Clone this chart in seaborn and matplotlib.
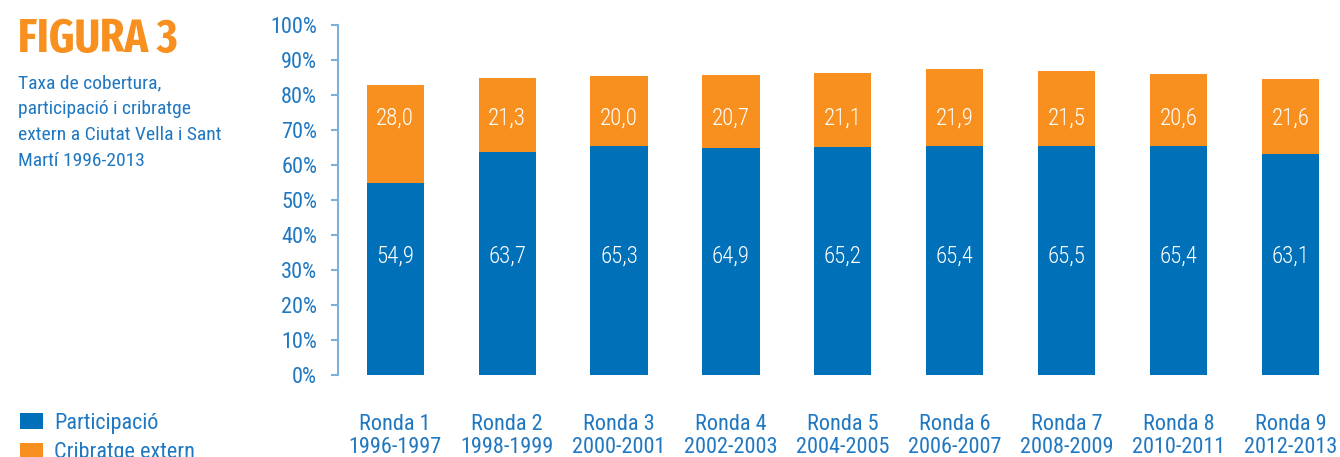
import matplotlib
matplotlib.use("Agg")
import matplotlib.pyplot as plt
import seaborn as sns
import pandas as pd

categories = ["Ronda 1\n1996-1997", "Ronda 2\n1998-1999", "Ronda 3\n2000-2001",
              "Ronda 4\n2002-2003", "Ronda 5\n2004-2005", "Ronda 6\n2006-2007",
              "Ronda 7\n2008-2009", "Ronda 8\n2010-2011", "Ronda 9\n2012-2013"]
participacio = [54.9, 63.7, 65.3, 64.9, 65.2, 65.4, 65.5, 65.4, 63.1]
cribratge = [28.0, 21.3, 20.0, 20.7, 21.1, 21.9, 21.5, 20.6, 21.6]
yticks = [0, 10, 20, 30, 40, 50, 60, 70, 80, 90, 100]

BLUE = "#0070b8"
ORANGE = "#f7901e"
TXT = "#1f78c1"
SPINE = "#7fb0d8"

sns.set_theme(style="white")
plt.rcParams["font.family"] = ["Roboto Condensed", "DejaVu Sans"]

df = pd.DataFrame({"cat": categories, "part": participacio, "crib": cribratge})
df["total"] = df["part"] + df["crib"]

fig = plt.figure(figsize=(13.4, 4.57), dpi=100)
ax = fig.add_axes([338 / 1340, 1 - 375 / 457, 1 - 338 / 1340, 350 / 457])

sns.barplot(data=df, x="cat", y="total", color=ORANGE, saturation=1, width=0.51,
            ax=ax, label="Cribratge extern", linewidth=0)
sns.barplot(data=df, x="cat", y="part", color=BLUE, saturation=1, width=0.51,
            ax=ax, label="Participació", linewidth=0)

for i, (p, c) in enumerate(zip(participacio, cribratge)):
    ax.text(i, 34, f"{p:.1f}".replace(".", ","), ha="center", va="center",
            color="white", fontsize=16.5, fontweight=300)
    ax.text(i, 73.5, f"{c:.1f}".replace(".", ","), ha="center", va="center",
            color="white", fontsize=16.5, fontweight=300)

ax.set_xlim(-0.51, 8.44)
ax.set_ylim(0, 100)
ax.set_yticks(yticks)
ax.set_yticklabels([f"{t}%" for t in yticks])
ax.set_xlabel("")
ax.set_ylabel("")
for s in ["top", "right", "bottom"]:
    ax.spines[s].set_visible(False)
ax.spines["left"].set_color(SPINE)
ax.spines["left"].set_linewidth(1.5)
ax.tick_params(axis="y", which="both", left=True, length=5, width=1.5, color=SPINE,
               direction="out", pad=10, labelsize=16, labelcolor=TXT)
ax.tick_params(axis="x", bottom=False, length=0, pad=28, labelsize=16, labelcolor=TXT)
for lab in ax.get_xticklabels():
    lab.set_linespacing(1.15)

if ax.get_legend() is not None:
    ax.get_legend().remove()
handles, labels = ax.get_legend_handles_labels()
order = [labels.index("Participació"), labels.index("Cribratge extern")]
fig.legend([handles[k] for k in order], [labels[k] for k in order],
           loc="upper left", bbox_to_anchor=(4 / 1340, 1 - 397 / 457),
           frameon=False, fontsize=16, labelcolor=TXT, handlelength=1.05,
           handleheight=0.75, handletextpad=0.5, labelspacing=0.4, borderpad=0.2)

fig.text(18 / 1340, 1 - 52 / 457, "FIGURA 3", color=ORANGE, fontsize=34,
         fontweight="bold", ha="left", va="baseline",
         family=["Fira Sans Extra Condensed", "Roboto Condensed", "DejaVu Sans"])
fig.text(18 / 1340, 1 - 74 / 457,
         "Taxa de cobertura,\nparticipació i cribratge\nextern a Ciutat Vella i Sant\nMartí 1996-2013",
         color=TXT, fontsize=14, ha="left", va="top", linespacing=1.58)

fig.savefig("out.png", dpi=100)
